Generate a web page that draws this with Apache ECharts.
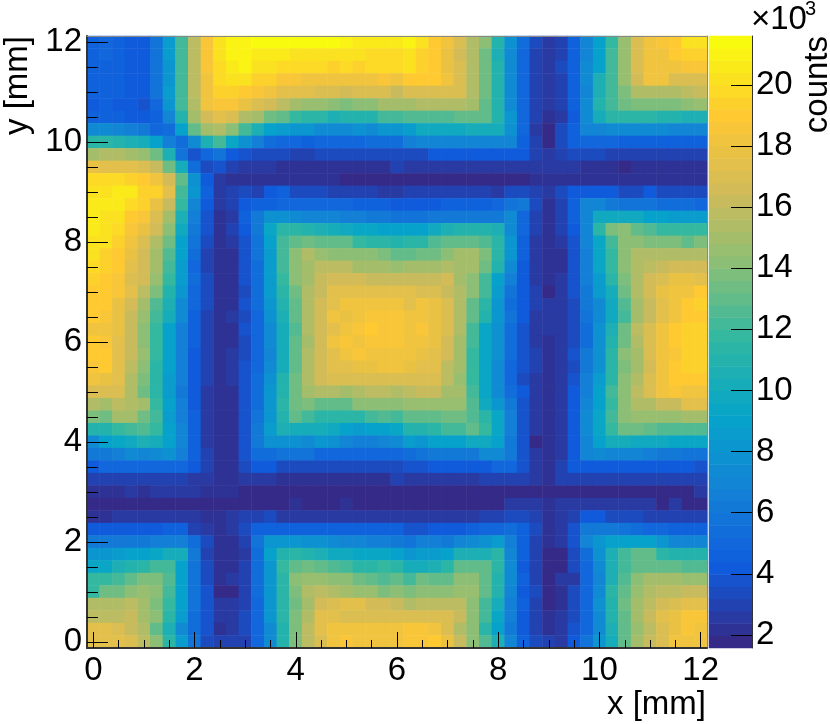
<!DOCTYPE html>
<html>
<head>
<meta charset="utf-8">
<style>html,body{margin:0;padding:0;background:#fff}#c{width:830px;height:724px}</style>
<script src="https://cdn.jsdelivr.net/npm/echarts@6/dist/echarts.min.js"></script>
</head>
<body>
<div id="c"></div>
<script>
// Counts in thousands; each row runs from x = 0 mm to x = 12 mm, rows listed from y = 12 mm down to y = 0 mm.
const r00=[4.6,5,4.6,4.1,4.2,5.8,8.6,12.3,15.6,18.4,20,20.8,20.8,21.3,21.4,21.5,21.5,21.5,21.5,21.4,21,20.6,20.6,20.6,20.4, 20.8,20,19,18,16.8,15.5,14,11,7.8,5.3,3.4,2.5,3,4.6,7,9,11.8,14.5,16.8,18,18.5,19,20,20];
const r01=[4.5,5,4.6,4.1,4.2,5.9,8.6,12.3,15.6,18.4,20,20.8,20.8,20.6,20.6,20.4,20.2,20.2,20.2,20.2,20,20,19.8,19.8,19.8, 20.2,19.5,19,17.8,16.6,15.4,13.3,10.5,7.5,5,3,2.5,3,4.6,7,8.8,12,14.6,16.8,18,18.3,19,19.4,19.4];
const r02=[4.5,4.7,4.5,4.1,4.2,5.9,8.3,12.3,15.6,18.4,19.8,20.5,20.8,20.2,20.2,19.8,19.8,19.6,19.6,19.2,19.6,19.3,19.6,19.6,19.6, 20.3,19.5,19,17.8,16.8,15.4,13.3,10.8,7.2,5,3,2.5,3.2,4.6,7.2,8.8,12,14.6,16.9,18,18.3,18.3,18.5,18.5];
const r03=[4.5,4.7,4.5,4.2,4.2,5.7,8.3,12,15.6,18.2,19.8,20,20,19.3,19.3,18.5,18.5,18.3,18.3,18.2,18.2,18.2,18.2,18.6,18.2, 18.8,18.8,18.8,18,16.8,15.4,13.3,10.8,7.2,4.8,3,2.4,3,4.6,7.2,10.4,12,14.4,16.7,18,18,17,17,17];
const r04=[4.5,4.7,4.5,4.2,4.2,5.6,8.4,12,15.6,18.3,19.4,19.3,18.9,18.6,18.3,17.4,17.2,17.2,16.9,16.8,16.5,16.9,16.9,16.9,16.3, 16.8,16.8,17,17,16.8,15.4,13.3,10.8,7.2,4.8,3,2.4,3,4.6,7,10.4,12,13.8,15.2,15.2,15.4,15.2,15.8,16.2];
const r05=[4.3,4.4,4.3,4.1,3.8,5,8.1,12,15.5,18.2,18.7,18.7,17.9,17,16.6,15.7,15,14.7,14.5,14.2,13.9,14.2,14,14.8,15, 15,15.2,15.2,15.2,15.2,15,13,10.8,7.3,4.8,3,2.4,2.8,4.6,7.5,10.8,12,13.3,13.8,13.8,13.8,13.8,14.2,14.5];
const r06=[4.4,4.4,4.4,4.2,4.2,4.6,7,11,15,16.6,17.2,16.8,15.2,14.8,13.5,12.8,11.8,11.2,11.2,10.5,11,11,11,12,12, 12.4,12.4,12.4,12.4,12.8,12.8,13,11,8,4.8,3,2,2.7,4,7.3,10.2,11.4,11.4,11.3,11.3,11,11,10.6,10.6];
const r07=[7.5,7.2,7,6.6,6.2,5,5.4,9,12.8,15,15.5,14,12,10.7,9,8.5,8.2,8,7.5,7.3,7.3,7.8,7.5,8.3,8.3, 8.7,9.6,9.6,9.6,9.8,10.2,10.2,10.2,7.9,4.8,2.5,1.9,3.2,4.6,6.8,6.8,7.2,7.2,7.3,7.3,7.3,7,7,7];
const r08=[11.3,11.2,11,10.5,10,9,6.5,5.2,7.5,10.7,12.2,9.2,7.8,6.5,5.2,5,4.9,4.7,4.8,5,5,5,5.2,5.2,5.3, 6.5,6.8,6.8,6.8,6.8,6.9,7,7,6.8,4.6,3,1.9,3.2,4.6,5,5,4.8,4.5,4.6,4.6,4.6,4.4,4.4,4.4];
const r09=[15,15.2,15.2,15,14.7,13.3,10.5,5.8,3.8,4.8,5.8,4.3,3.8,3.4,3.3,3.2,3.1,3.1,3.2,3.2,3.2,3.2,3.2,3.3,3.3, 3.3,3.3,4.1,4.1,4.1,4.1,4.1,4.1,4.1,4.1,2.8,2.5,3.1,3.4,3.4,3.4,2.9,2.9,2.9,2.9,2.9,2.9,2.9,2.9];
const r10=[17.6,17.4,17.4,17.2,16.9,16,13.5,10,5.5,3.4,3.8,3,2.7,2.6,2.5,2.2,2.2,2.2,2.2,2.2,2.2,2.2,2.2,2.2,2.8, 2.7,2.7,2.7,2.7,2.7,2.7,2.7,2.7,2.7,2.7,2.4,2.4,2.6,2.6,2.1,2.1,2.1,1.8,2.2,2.2,2.2,2.2,2.2,2.2];
const r11=[19.7,19.6,19.6,19.2,19,18.2,16.5,12.8,7.8,4.3,2.4,2.1,2.1,2.1,2.1,2.1,2.1,2.1,2.1,2.1,1.9,1.8,1.8,1.8,1.9, 1.8,1.8,1.8,1.8,1.8,1.8,1.8,1.8,1.8,1.8,2.2,2.2,2.2,2.2,2.2,2.2,2.2,2.2,2.2,2.2,2.2,2.2,2.2,2.2];
const r12=[20.3,20,20.4,20.4,19.3,19.4,17.3,12.3,8,4.4,2.6,3.1,3.4,2.9,4.3,4.4,3.5,3.5,3.5,2.9,3,3,3,2.5,2.5, 2.8,2.8,2.8,2.8,2.8,2.8,2.8,2.6,3.2,3.2,2.9,2.4,3.5,4.3,4.1,4.1,4,3.3,3.3,4.3,3.5,3.5,3.5,3.5];
const r13=[20.6,20.4,20.4,19.9,19.4,17.8,16,11.6,6.9,4.3,2.7,3,4,4.5,4.7,4.9,4.9,4.9,4.9,4.9,4.8,4.5,4.5,4.5,4.3, 4.2,4.2,4.2,4.4,4.4,4.4,4.7,4.8,5.6,6,3.5,2.2,2.9,4.7,6.8,6.8,6.2,5.9,5.9,5.8,5.4,5.2,5.2,5];
const r14=[20.5,20.2,20,19,18.4,17,14.8,10.6,6.7,3.8,2.2,2.7,4.4,6,7.6,7.6,7.3,6.9,6.9,6.8,6.5,6.5,6.3,6.3,5.8, 5.6,5.6,6.2,6.2,6.3,6.3,6.3,6.3,7.5,5,3.1,2.2,2.9,4.4,7,9.8,9.8,9.8,9.8,8.9,8.9,8.7,8.7,8.7];
const r15=[20.5,20.2,19.7,18.7,17.9,16.4,14,9.8,6.2,3.7,2.2,2.8,4.1,6.2,9.2,11.3,11.3,11,10.6,10.3,9.7,9.3,9.3,9.1,8.8, 8.8,8.8,9.7,10.5,11,11,11,10.7,7.5,4.8,2.8,2,2.8,4.2,6.9,11.4,13.8,14,12.8,12.5,11.8,11.6,11.6,11.6];
const r16=[20.2,20,19.3,18,17.1,15.4,13.3,9,5.7,3.2,2.2,2.5,3.9,5.8,8.8,12.2,13,13.3,12.8,12.8,12.8,11.7,11.5,11.5,11, 11.4,11.4,12.4,13,13,13,12.6,11.2,8.3,4.7,2.7,2,2.6,3.7,6.8,9.5,12,14,14.2,13.8,13.8,13.8,13,13.8];
const r17=[20,19.4,19.1,17.7,16.7,15.1,12.4,8.8,5.3,3.1,2.1,2.1,3.8,5.6,8.7,12.2,14,15.3,14.5,14.3,14.3,14,14,13.8,13, 12.8,13.5,13.5,14,15,15,13.8,11.2,8.2,4.6,2.7,2,2.3,3.6,6.5,9.3,11.9,14.2,15.2,15.2,15.2,15.2,15.2,15.2];
const r18=[19.6,19.3,18.9,17.4,16.5,15,12.1,8.5,5.1,3.1,2.1,2.1,3.7,5.5,8.6,12,14.1, 15,15.8,15.8,15.8,15,15,15,14.6,15,15,15,15.2,15, 15,13.2,11,7.4,4.3,2.6,2.1,2.2,3.6,6.5,9.3,11.6,14,15.2,15.8,16.2,16.5,16.5,16.5];
const r19=[19.2,19.1,18.5,17.1,16.5,14.5,11.9,8.4,5.5,3.3,2.1,2.1,3.6,5.4,8.5,11.9,14, 15,16.3,16.4,16.5,16.5,16.3,16.3,16.3,16.2,16.2,16.2,16.4,15, 14,12.3,9,6.5,4.2,2.7,2.1,2.7,3.8,6.4,8.6,11.2,13.8,15.2,16.4,17,17.6,17.6,17.2];
const r20=[19,19,18.4,17.2,15.6,13.6,11,8,5,3.3,2.2,2.2,3.5,5.3,8.6,11.4,13.3, 15.2,16.3,17.5,17.5,17.5,17.5,17.5,17.5,17.4,16.9,16.9,16.3,15.4, 14,12,8.5,5.9,4.2,2.8,1.9,2.7,3.8,6.3,8.5,10.3,13.4,15.4,16.5,17.6,18.2,18.2,18.9];
const r21=[19,18.9,17.9,16.6,15,12.6,10.4,7.5,4.8,3.3,2.2,2.2,3.6,5.2,8.2,10.9,13, 15.2,16.4,17.5,18,18,18,18,18,17.5,18.1,17.7,16.8,15.5, 13,11.2,8.1,5.5,4,2.8,2.4,2.7,3.4,6.2,7.5,9.7,12.4,15.1,16.2,17.4,18.2,19,19.2];
const r22=[18.9,18.6,17.8,16.3,14.7,12.3,10,7.2,4.7,3,2.1,2.5,3.5,5,7.6,10.5,13, 15.2,16.4,18,17.9,18,18.4,18.7,18.7,18.2,18.3,17.7,16.8,15.3, 12.8,11,8.2,5.8,4,2.7,2.4,2.7,3.4,5.8,7.3,9.7,12.2,15,16.2,17.4,18,19,18.9];
const r23=[18.3,18.2,17.6,16,14.3,11.8,9,6.6,4.5,2.9,2.1,2.2,3.6,4.9,7.3,10.2,12.5, 15.5,16.4,17.5,18,18.7,19,18.6,18.4,18.3,18.4,17.9,16.9,15.3, 12,9.3,7.7,5.4,3.7,2.6,2.4,2.7,3.5,5.2,7.7,10.5,13.4,15.7,16.9,18.2,19,19.2,19.2];
const r24=[18.8,18.6,17.5,16,14.2,11.6,8.9,6.5,4.4,2.9,2.1,2.2,3.5,4.9,7.3,10.2,13, 15,16.4,18,18.4,18.3,18.4,18.7,18.4,18.3,18,17.8,16.6,15, 12,9.2,7.8,5.4,3.7,2.6,2.3,2.7,3.5,5.4,7.8,11,13.5,15.3,16.8,18.2,19,19.2,19.2];
const r25=[19,18.9,17.5,16,14.5,11.8,9,6.6,4.3,2.8,2,2.6,3.5,4.8,7,10,12.8, 15.4,16.4,17.5,18.2,18.5,18.3,18.3,18.3,18.3,17.9,17.5,16.5,15, 11.7,9.2,7.8,5.2,3.7,2.8,2,2.7,3.8,6,7.8,11.2,14,15,16.8,18,18.7,19.3,19.3];
const r26=[18.6,18.9,17.3,15.7,14,11.5,8.9,6.5,4.3,2.8,2,2.6,3.6,5,7.4,10.3,13, 15.5,16.4,17.5,17.5,17.6,17.6,18.3,18.3,17.8,17.5,17.4,15.8,14.8, 11.6,9.2,7.3,5,3.7,3,2,2.7,3.4,6,7.8,11.3,13.8,15.1,16.6,18,19,19.4,19.4];
const r27=[18,17.8,17.4,15.4,13.6,11.5,8.6,6.4,4.1,3,2.1,2.6,3.7,5.2,7.7,10.8,13.5, 15.5,16.4,16.8,17,17,17,17,17,17,17,16.8,15.6,14.6, 11.8,9.5,7.3,5,3.5,2.4,2,2.7,3.8,6.6,8.5,11.4,14,15.4,17,18,19,19,19];
const r28=[17,16.9,16.8,15.2,13.4,11.5,8.4,6.2,4,2.4,2.1,2.3,3.7,5.2,8,11,13.5, 15,15.2,15.2,14.8,15.5,15.7,15.8,15.5,15.8,16,16,15,14.8, 12,9.2,7.3,5.3,4,2.5,2,2.6,4,6.6,8.8,12,14.2,15.8,17,18,18.5,18,18];
const r29=[15.4,15,15.7,15.3,14.8,11.8,9,6.5,4.3,2.4,2.1,2.3,3.7,5.4,8.1,11.2,13.3, 13.8,12.8,12.8,12.8,14,14,14,14,14.5,14.5,14.5,14.5,14.5, 12.5,9.8,8,6.2,3.8,2.5,2,2.6,4,7,8.8,11.6,14,15.2,15.5,16.3,16.3,17.4,17.4];
const r30=[13.7,13.5,14.8,14.8,13.5,12,8.5,6.5,4.5,2.4,2.1,2.3,3.7,5.6,8.2,11,12.8, 12,11.5,11.3,11.2,11.5,12,12.4,12,13,13,13,13.5,13.5, 12.5,11.2,9.2,6.6,3.8,2.5,2,2.6,4,7.2,9.2,12,14,14.5,14.5,14.6,14.6,15,15];
const r31=[10.8,10.8,11.8,12.2,12.6,11.8,8.8,6.8,4.4,2.5,2.1,2.3,3.7,6,8.6,10.4,10.2,10,10.3,9.7,9,8.6,8.8,9.1,9.5, 10.8,11,11.4,12,12.3,13,11.7,9.2,6.6,3.9,2.5,2,2.6,4.1,7.4,9.2,11.8,13.2,13.5,13,12.5,12.5,12.5,12.5];
const r32=[7.5,8.8,9.5,9.8,10.7,10.3,8.8,6.8,4.6,2.5,2.1,2.3,3.7,6.3,7.6,7.9,7.8,7.5,8,7.8,6.8,6.6,6.5,7.1,7.2, 8.5,8.2,8.8,9,9,9.8,9.8,9,6.2,3.6,1.9,2,2.6,4.2,7,8.8,10.3,10.3,9.8,9.8,9.8,9.5,9.5,9.5];
const r33=[6.3,6.3,6.5,7.2,7,7.2,7.6,6.5,4.6,3,2.1,2.3,3.7,5.2,5.5,5.6,5.6,5.6,5,5,5,5,5,5,4.8, 5.4,5.7,6,6,6.2,6.2,7.2,7.2,6.2,3.7,2.6,2,2.6,4,6.8,7.5,6.8,6.8,6.8,6.7,6.2,6,5.8,5.8];
const r34=[4.3,4.8,4.8,4.8,4.8,4.8,4.8,4.8,4.2,3.1,2.1,2.3,3.5,4.1,4.1,3.5,3.4,3.4,3.4,3.4,3.4,3.4,3.4,3.4,3.4, 3.9,3.9,4.2,4.2,4.2,4,4,5,4.8,3.9,2.7,2,3,4,4.2,4.2,4.2,4.2,4.2,4.2,4.2,4.2,4.2,3.9];
const r35=[3.1,3,3,3,3,3,3,3,2.7,2.5,2.1,2.2,2.6,2.6,2.6,2.1,2.1,2.1,2.1,2.1,2.1,2.1,2.1,2.1,3, 2.6,2.6,2.6,2.6,2.6,2.6,3,3,3,3,2.7,2,3,3.1,2.8,2.8,2.8,2.8,2.8,2.8,2.8,2.8,2.8,2.8];
const r36=[2,2,2,2.4,2,2.4,2.4,2.4,2.4,2.1,2,2.1,1.8,1.8,1.8,1.8,1.8,1.8,1.8,1.8,1.8,1.8,1.8,1.8,1.8, 1.8,1.8,1.8,1.8,1.8,1.8,1.8,1.8,1.8,1.8,1.8,1.8,1.8,1.8,1.8,1.8,1.8,1.8,1.8,1.8,1.8,1.8,1.8,2.4];
const r37=[1.7,1.7,1.7,1.7,1.7,1.7,1.7,1.7,1.7,1.7,1.7,1.7,1.7,1.7,1.7,1.7,2.2,1.7,1.7,1.7,2.2,1.7,1.7,1.7,1.7, 1.8,1.8,1.8,1.8,1.8,1.8,1.8,1.8,2.4,2.4,2.4,2,2.4,2.4,2.4,2.4,2.4,2.4,2.4,2.4,1.9,2.4,1.8,1.8];
const r38=[2,2,2.6,2.6,2.6,2.6,2.6,2.6,2.6,2.3,2,2.4,2.9,2.9,3.3,2.7,2.7,2.7,2.7,2.7,2.7,2.7,2.4,2.4,2.4, 2.6,2.6,2.6,2.6,2.6,2.6,3,3.1,3.5,3.5,2.9,2,2.6,3.1,4,4,3.3,3.3,3.3,2.8,2.8,2.8,2.8,2.8];
const r39=[4,4,4.2,4.2,4.2,4.2,4.7,4.7,3,2.5,2.1,2.4,3.5,4.6,4.4,4.5,4.6,4.6,4.6,4.5,4.4,4.4,4.5,4.5,4.4, 3.9,3.9,4.2,4.2,4.2,4.4,4.8,4.8,5.5,4.6,3.2,2,2.6,3.8,6,6.3,6.3,5.6,5.3,5,4.8,4.6,4.6,4.6];
const r40=[6.3,6.2,6,6,6,6.5,6.5,6.5,5.5,3.2,2,2,3,5.7,8,8,8,7.8,7.6,7.5,7,6.8,6.5,6.4,6, 5.8,6.5,6.5,6.3,7,7.5,7.7,8.4,6.5,4.5,3.1,2,2.4,3.8,6.8,8.2,9,9,9,9,8.2,7,7,7];
const r41=[8,8,8.4,9,9,9.5,10,10,6.3,2.8,2,2,2.6,5.5,9,11,11.2,10.8,10.4,9.8,9.6,9.4,9.5,9.5,9, 8.2,8.5,8.5,8.8,10.6,10.7,10.7,11.5,7,4.4,3.1,1.9,1.9,3.4,5.4,7.8,10.6,12.2,13,12.8,11.5,11,11,11];
const r42=[9.5,9.5,10.7,11,11.5,12,12.3,9,5.8,3.5,2,2,2.8,5.4,8,11.8,13,13.2,13,12.4,12,11.5,11.5,11.6,11.2, 10,10.3,10.5,11.5,13,13,13,11.5,7.3,4.3,3.1,1.9,1.9,3.2,4.9,7.5,10.6,12.2,13,13,13,13,12.5,12.5];
const r43=[11.6,11.6,12,13,13.8,13.8,12.5,8.9,5.6,3.3,2,2.6,3,5.5,8,11.2,14,14.4,14.7,14.3,14,13.5,13,12.5,13, 12.2,13.2,13,13,14,14.3,13,11,7.3,4.6,3,1.9,2.4,2.6,5,6.8,10.4,12.6,14.2,15,15,15,14.5,14.5];
const r44=[11.8,13.2,13.2,14.2,14.7,14,12.3,8.8,5.7,3.8,1.9,1.9,3,5.5,8.1,11.3,13.7,15.4,15.7,15.5,15,14.6,14.4,13.6,14, 13.8,14,14.2,14.3,14.4,14.4,13,10.8,6.8,4.2,3.5,1.9,2.2,3.4,5,7.4,11.4,13,14.5,15.2,15.8,15.8,16,16];
const r45=[15.2,15.2,15.3,15.6,14.8,13.8,11.8,8.8,5.6,3.6,2.6,2.6,3.1,5,8.3,11.2,13.5,14.8,16.5,17,17.2,17.3,16.5,16.4,16.3, 15.2,15.6,15.6,15.6,15.6,14,12.3,10.2,6.7,4.5,2.8,1.9,2.1,3.3,5,7.8,11,13.2,14.8,15.8,16.6,17,17.5,17.5];
const r46=[15.8,15.7,15.9,16.3,15,14,11.3,8.6,5.5,3.6,2.6,2.6,3.4,5,8.2,11.2,13.6,15.3,17.2,17.4,17,17,16.9,16.9,16.9, 16.9,16.9,16.9,17,16,14.2,12,9.4,6.6,4.2,3,2,2.4,3.5,5,7.5,10.8,13,15,16,17.2,17.7,18.5,18.5];
const r47=[17.5,17.3,16.8,16,15.4,13,10.5,7.5,5.2,3.6,2,2.6,3.5,4.9,7.5,11,13.6,15.7,17.2,18,18,18,18,18,18, 18.4,18.4,18,17,15.5,14,11.5,8.8,6.2,4.2,2.8,2.2,2.6,3.8,5,7.5,10.6,13,14.5,15.8,17,17.8,18.5,18.3];
const r48=[17.5,17.5,17.2,17,15.6,14,11.5,8.5,5.7,3.4,2.8,2.8,3,4.8,7.2,11,13.6,15.8,17,18.3,18.5,18.3,18.3,18,18, 18.6,18.6,18.8,17.8,16.2,14.2,12.4,10.4,6.8,4.4,3.2,2.8,2.5,4,5.6,8,10,13,15,16.2,17,18,18,18];
const rows=[r00,r01,r02,r03,r04,r05,r06,r07,r08,r09,r10,r11,r12,r13,r14,r15,r16,r17,r18,r19,r20,r21,r22,r23,r24,r25,r26,r27,r28,r29,r30,r31,r32,r33,r34,r35,r36,r37,r38,r39,r40,r41,r42,r43,r44,r45,r46,r47,r48];

const binLabels=['0','0.25','0.5','0.75','1','1.25','1.5','1.75','2','2.25','2.5','2.75','3','3.25','3.5','3.75','4','4.25','4.5','4.75','5','5.25','5.5','5.75','6','6.25','6.5','6.75','7','7.25','7.5','7.75','8','8.25','8.5','8.75','9','9.25','9.5','9.75','10','10.25','10.5','10.75','11','11.25','11.5','11.75','12'];
const colorTicks=[2,4,6,8,10,12,14,16,18,20];
const zMin=1.57, zMax=21.6, nLevels=50;
const FONT='Liberation Sans';

// ROOT kBird palette stops
const birdStops=[[53,42,135],[15,92,221],[20,129,214],[6,164,202],[46,183,164],[135,191,119],[209,187,89],[254,200,50],[249,251,14]];
function bird(t){
  const p=Math.min(t,0.9999)*(birdStops.length-1), i=Math.floor(p), f=p-i;
  const a=birdStops[i], b=birdStops[i+1];
  return 'rgb('+a.map((v,k)=>Math.round(v+(b[k]-v)*f)).join(',')+')';
}
const levelStep=(zMax-zMin)/nLevels;
const pieces=[], levelData=[], levelNames=[];
for(let i=0;i<nLevels;i++){
  pieces.push({min:zMin+i*levelStep,max:zMin+(i+1)*levelStep,color:bird(i/(nLevels-1))});
  levelNames.push(String(i));
  levelData.push([0,i,zMin+(i+0.5)*levelStep]);
}
const cells=[];
rows.forEach((row,r)=>row.forEach((v,c)=>cells.push([c,rows.length-1-r,v])));

const GRID={left:87,top:36,width:620,height:612};
const BAR={left:709,top:36,width:43,height:612};
const labelStyle={show:true,color:'#000',fontFamily:FONT,fontSize:33};
const hidden={show:false};
const tick=(len,interval)=>({show:true,inside:true,length:len,interval:interval,alignWithLabel:true,lineStyle:{color:'#000',width:1}});

const chart=echarts.init(document.getElementById('c'),null,{renderer:'canvas'});
chart.setOption({
  animation:false,
  backgroundColor:'#fff',
  tooltip:{show:false},
  grid:[Object.assign({containLabel:false},GRID),Object.assign({containLabel:false},BAR)],
  visualMap:{type:'piecewise',show:false,dimension:2,seriesIndex:[0,1],pieces:pieces},
  xAxis:[
    {type:'category',gridIndex:0,data:binLabels,position:'bottom',z:5,
     axisLine:{show:true,onZero:false,lineStyle:{color:'#333',width:2}},
     axisTick:tick(16,7),axisLabel:Object.assign({},labelStyle,{interval:7,margin:6}),splitLine:hidden},
    {type:'category',gridIndex:0,data:binLabels,position:'bottom',z:5,
     axisLine:hidden,axisTick:tick(8,1),axisLabel:hidden,splitLine:hidden},
    {type:'category',gridIndex:0,data:binLabels,position:'top',z:5,
     axisLine:{show:true,onZero:false,lineStyle:{color:'#888',width:1}},axisTick:hidden,axisLabel:hidden,splitLine:hidden},
    {type:'category',gridIndex:1,data:['c'],axisLine:hidden,axisTick:hidden,axisLabel:hidden,splitLine:hidden}
  ],
  yAxis:[
    {type:'category',gridIndex:0,data:binLabels,position:'left',z:5,
     axisLine:{show:true,onZero:false,lineStyle:{color:'#333',width:2}},
     axisTick:tick(21,7),axisLabel:Object.assign({},labelStyle,{interval:7,margin:5}),splitLine:hidden},
    {type:'category',gridIndex:0,data:binLabels,position:'left',z:5,
     axisLine:hidden,axisTick:tick(11,1),axisLabel:hidden,splitLine:hidden},
    {type:'category',gridIndex:0,data:binLabels,position:'right',z:5,
     axisLine:{show:true,onZero:false,lineStyle:{color:'#888',width:1}},axisTick:hidden,axisLabel:hidden,splitLine:hidden},
    {type:'category',gridIndex:1,data:levelNames,axisLine:hidden,axisTick:hidden,axisLabel:hidden,splitLine:hidden},
    {type:'value',gridIndex:1,position:'right',min:zMin,max:zMax,z:5,
     axisLine:{show:true,onZero:false,lineStyle:{color:'#333',width:1}},
     axisTick:{show:true,inside:true,length:21,customValues:colorTicks,lineStyle:{color:'#000',width:1}},
     axisLabel:Object.assign({},labelStyle,{customValues:colorTicks,margin:4}),splitLine:hidden}
  ],
  series:[
    {type:'heatmap',name:'counts',xAxisIndex:0,yAxisIndex:0,data:cells,silent:true,progressive:0,z:2},
    {type:'heatmap',name:'scale',xAxisIndex:3,yAxisIndex:3,data:levelData,silent:true,progressive:0,z:2}
  ],
  graphic:[
    {type:'text',z:10,x:706,y:705,style:{text:'x [mm]',font:'33px "Liberation Sans"',fill:'#000',textAlign:'right',textVerticalAlign:'middle'}},
    {type:'text',z:10,x:18,y:36,rotation:Math.PI/2,style:{text:'y [mm]',font:'33px "Liberation Sans"',fill:'#000',textAlign:'right',textVerticalAlign:'middle'}},
    {type:'text',z:10,x:818,y:36,rotation:Math.PI/2,style:{text:'counts',font:'33px "Liberation Sans"',fill:'#000',textAlign:'right',textVerticalAlign:'middle'}},
    {type:'text',z:10,x:751,y:20,style:{text:'×10',font:'33px "Liberation Sans"',fill:'#000',textAlign:'left',textVerticalAlign:'middle'}},
    {type:'text',z:10,x:805,y:9,style:{text:'3',font:'20px "Liberation Sans"',fill:'#000',textAlign:'left',textVerticalAlign:'middle'}}
  ]
});
</script>
</body>
</html>
